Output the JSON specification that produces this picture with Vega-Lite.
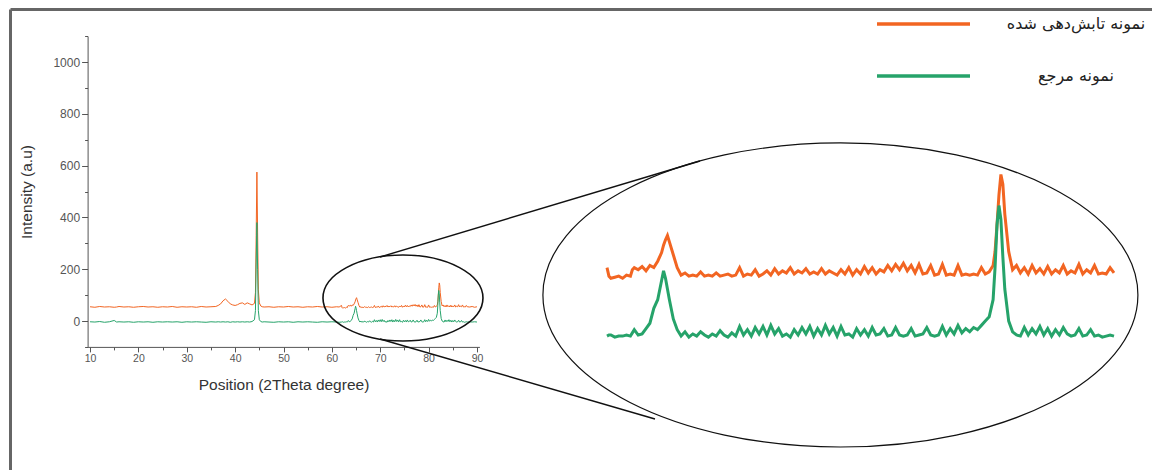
{
  "$schema": "https://vega.github.io/schema/vega-lite/v6.json",
  "autosize": {"type": "none"},
  "padding": {"left": 10, "top": 9, "right": 0, "bottom": 0},
  "width": 1142,
  "height": 461,
  "background": "white",
  "config": {"view": {"stroke": null}, "axis": {"grid": false}},
  "datasets": {
    "xrd": [
      {"x":10,"irr":55,"ref":-3},{"x":11,"irr":53,"ref":-4},{"x":12,"irr":56,"ref":-2},{"x":13,"irr":54,"ref":-5},{"x":14,"irr":55,"ref":-3},{"x":15,"irr":53,"ref":2},{"x":15.5,"irr":54,"ref":-4},{"x":16,"irr":56,"ref":-3},{"x":17,"irr":54,"ref":-4},{"x":18,"irr":55,"ref":-3},{"x":19,"irr":53,"ref":-5},{"x":20,"irr":55,"ref":-3},{"x":21,"irr":56,"ref":-4},{"x":22,"irr":54,"ref":-3},{"x":23,"irr":55,"ref":-5},{"x":24,"irr":53,"ref":-3},{"x":25,"irr":55,"ref":-4},{"x":26,"irr":54,"ref":-3},{"x":27,"irr":56,"ref":-4},{"x":28,"irr":53,"ref":-3},{"x":29,"irr":55,"ref":-5},{"x":30,"irr":54,"ref":-3},{"x":31,"irr":55,"ref":-4},{"x":32,"irr":53,"ref":-3},{"x":33,"irr":56,"ref":-4},{"x":34,"irr":54,"ref":-5},{"x":35,"irr":55,"ref":-3},{"x":36,"irr":56,"ref":-4},
      {"x":36.5,"irr":60,"ref":-3},{"x":37,"irr":66,"ref":-4},{"x":37.5,"irr":78,"ref":-3},{"x":38,"irr":85,"ref":-4},{"x":38.5,"irr":76,"ref":-3},{"x":39,"irr":66,"ref":-5},{"x":39.5,"irr":62,"ref":-3},{"x":40,"irr":60,"ref":-4},{"x":40.5,"irr":63,"ref":-3},{"x":41,"irr":68,"ref":-4},{"x":41.5,"irr":70,"ref":-3},{"x":42,"irr":64,"ref":-4},{"x":42.5,"irr":70,"ref":-3},{"x":43,"irr":66,"ref":-4},{"x":43.5,"irr":62,"ref":-2},
      {"x":44,"irr":68,"ref":5},{"x":44.2,"irr":110,"ref":40},{"x":44.35,"irr":330,"ref":220},{"x":44.5,"irr":575,"ref":380},{"x":44.65,"irr":340,"ref":200},{"x":44.8,"irr":120,"ref":40},{"x":45,"irr":70,"ref":5},{"x":45.3,"irr":58,"ref":-2},{"x":45.6,"irr":55,"ref":-4},
      {"x":46,"irr":54,"ref":-3},{"x":47,"irr":55,"ref":-4},{"x":48,"irr":53,"ref":-5},{"x":49,"irr":55,"ref":-3},{"x":50,"irr":54,"ref":-4},{"x":51,"irr":56,"ref":-3},{"x":52,"irr":54,"ref":-5},{"x":53,"irr":55,"ref":-3},{"x":54,"irr":53,"ref":-4},{"x":55,"irr":55,"ref":-3},{"x":56,"irr":54,"ref":-4},{"x":57,"irr":56,"ref":-5},{"x":58,"irr":54,"ref":-3},{"x":59,"irr":55,"ref":-4},{"x":60,"irr":53,"ref":-3},{"x":61,"irr":55,"ref":-4},{"x":61.5,"irr":54,"ref":-5},
      {"x":62.0,"irr":60,"ref":-4},{"x":62.1,"irr":52,"ref":-3},{"x":62.2,"irr":50,"ref":-3},{"x":62.4,"irr":51,"ref":-5},{"x":62.6,"irr":52,"ref":-4},{"x":62.8,"irr":50,"ref":-4},{"x":63.0,"irr":53,"ref":-3},{"x":63.2,"irr":52,"ref":-4},{"x":63.3,"irr":58,"ref":-1},{"x":63.4,"irr":60,"ref":2},{"x":63.6,"irr":58,"ref":-3},{"x":63.8,"irr":61,"ref":-2},{"x":64.0,"irr":57,"ref":3},{"x":64.2,"irr":62,"ref":8},{"x":64.4,"irr":60,"ref":22},{"x":64.6,"irr":66,"ref":30},{"x":64.8,"irr":74,"ref":48},{"x":64.9,"irr":81,"ref":57},{"x":65.0,"irr":86,"ref":50},{"x":65.1,"irr":90,"ref":40},{"x":65.2,"irr":84,"ref":30},{"x":65.4,"irr":72,"ref":12},{"x":65.6,"irr":60,"ref":2},{"x":65.8,"irr":53,"ref":-4},
      {"x":66.0,"irr":55,"ref":0},{"x":66.2,"irr":52,"ref":-5},{"x":66.4,"irr":53,"ref":-2},{"x":66.6,"irr":52,"ref":-4},{"x":66.8,"irr":56,"ref":0},{"x":67.0,"irr":52,"ref":-3},{"x":67.2,"irr":53,"ref":-5},{"x":67.4,"irr":52,"ref":-2},{"x":67.6,"irr":55,"ref":-4},{"x":67.8,"irr":52,"ref":1},{"x":68.0,"irr":53,"ref":-3},{"x":68.2,"irr":54,"ref":-5},{"x":68.4,"irr":52,"ref":-1},{"x":68.6,"irr":53,"ref":-4},{"x":68.8,"irr":60,"ref":5},{"x":69.0,"irr":52,"ref":-3},{"x":69.2,"irr":54,"ref":2},{"x":69.4,"irr":53,"ref":-4},{"x":69.6,"irr":58,"ref":4},{"x":69.8,"irr":52,"ref":-2},
      {"x":70.0,"irr":54,"ref":5},{"x":70.2,"irr":57,"ref":-3},{"x":70.4,"irr":53,"ref":6},{"x":70.6,"irr":59,"ref":-2},{"x":70.8,"irr":54,"ref":3},{"x":71.0,"irr":57,"ref":-4},{"x":71.2,"irr":55,"ref":-2},{"x":71.4,"irr":60,"ref":-5},{"x":71.6,"irr":54,"ref":2},{"x":71.8,"irr":57,"ref":-3},{"x":72.0,"irr":55,"ref":4},{"x":72.2,"irr":59,"ref":-2},{"x":72.4,"irr":54,"ref":5},{"x":72.6,"irr":56,"ref":-4},{"x":72.8,"irr":54,"ref":3},{"x":73.0,"irr":59,"ref":-3},{"x":73.2,"irr":54,"ref":6},{"x":73.4,"irr":57,"ref":-2},{"x":73.6,"irr":55,"ref":4},{"x":73.8,"irr":53,"ref":-4},
      {"x":74.0,"irr":58,"ref":5},{"x":74.2,"irr":54,"ref":-3},{"x":74.4,"irr":60,"ref":-2},{"x":74.6,"irr":53,"ref":-5},{"x":74.8,"irr":58,"ref":3},{"x":75.0,"irr":54,"ref":-3},{"x":75.2,"irr":61,"ref":2},{"x":75.4,"irr":55,"ref":-4},{"x":75.6,"irr":60,"ref":4},{"x":75.8,"irr":54,"ref":-3},{"x":76.0,"irr":58,"ref":-2},{"x":76.2,"irr":56,"ref":3},{"x":76.4,"irr":62,"ref":-4},{"x":76.6,"irr":57,"ref":-3},{"x":76.8,"irr":63,"ref":4},{"x":77.0,"irr":58,"ref":-3},{"x":77.2,"irr":64,"ref":-4},{"x":77.4,"irr":57,"ref":-3},{"x":77.6,"irr":62,"ref":3},{"x":77.8,"irr":55,"ref":-4},
      {"x":78.0,"irr":63,"ref":-3},{"x":78.2,"irr":54,"ref":-2},{"x":78.4,"irr":55,"ref":4},{"x":78.6,"irr":62,"ref":-3},{"x":78.8,"irr":53,"ref":-4},{"x":79.0,"irr":54,"ref":-3},{"x":79.2,"irr":63,"ref":5},{"x":79.4,"irr":53,"ref":-3},{"x":79.6,"irr":54,"ref":3},{"x":79.8,"irr":53,"ref":-2},{"x":80.0,"irr":62,"ref":6},{"x":80.2,"irr":53,"ref":-1},{"x":80.4,"irr":54,"ref":3},{"x":80.6,"irr":53,"ref":0},{"x":80.8,"irr":54,"ref":4},{"x":81.0,"irr":53,"ref":2},{"x":81.2,"irr":60,"ref":6},{"x":81.4,"irr":54,"ref":10},{"x":81.6,"irr":56,"ref":14},
      {"x":81.8,"irr":62,"ref":30},{"x":81.9,"irr":75,"ref":60},{"x":82.0,"irr":100,"ref":100},{"x":82.1,"irr":128,"ref":118},{"x":82.2,"irr":147,"ref":105},{"x":82.3,"irr":138,"ref":70},{"x":82.4,"irr":110,"ref":40},{"x":82.6,"irr":75,"ref":10},{"x":82.8,"irr":58,"ref":0},
      {"x":83.0,"irr":62,"ref":-3},{"x":83.2,"irr":55,"ref":-4},{"x":83.4,"irr":60,"ref":4},{"x":83.6,"irr":54,"ref":-3},{"x":83.8,"irr":62,"ref":3},{"x":84.0,"irr":55,"ref":-2},{"x":84.2,"irr":59,"ref":5},{"x":84.4,"irr":54,"ref":-3},{"x":84.6,"irr":61,"ref":3},{"x":84.8,"irr":54,"ref":-4},{"x":85.0,"irr":58,"ref":2},{"x":85.2,"irr":55,"ref":-3},{"x":85.4,"irr":62,"ref":4},{"x":85.6,"irr":54,"ref":-2},{"x":85.8,"irr":57,"ref":-4},{"x":86.0,"irr":55,"ref":-3},{"x":86.2,"irr":63,"ref":3},{"x":86.4,"irr":54,"ref":-4},{"x":86.6,"irr":58,"ref":-3},{"x":86.8,"irr":55,"ref":2},{"x":87.0,"irr":62,"ref":-4},{"x":87.2,"irr":54,"ref":-3},{"x":87.4,"irr":55,"ref":-5},{"x":87.6,"irr":54,"ref":-4},{"x":87.8,"irr":60,"ref":-3},{"x":88.0,"irr":55,"ref":-4},
      {"x":88.5,"irr":54,"ref":-3},{"x":89,"irr":56,"ref":-4},{"x":89.5,"irr":53,"ref":-3},{"x":90,"irr":55,"ref":-4}
    ],
    "smallEllipse": [{"cx": 74.7, "cy": 88.8}],
    "bigEllipse": [{"cx": 73.97, "cy": 34.4}],
    "links": [
      {"x1": 69.95, "y1": 247.1, "x2": 136.1, "y2": 617.8},
      {"x1": 69.95, "y1": -69.5, "x2": 126.8, "y2": -378.4}
    ],
    "frame": [{"a": 0, "b": 0}]
  },
  "resolve": {"scale": {"x": "independent", "y": "independent"}, "axis": {"x": "independent", "y": "independent"}},
  "layer": [
    {
      "data": {"name": "frame"},
      "mark": {"type": "point", "opacity": 0},
      "encoding": {
        "x": {"field": "a", "type": "quantitative", "scale": {"domain": [0, 1], "nice": false, "zero": false},
          "axis": {"orient": "top", "title": null, "labels": false, "ticks": false, "grid": false, "domainColor": "#666", "domainWidth": 3}},
        "y": {"field": "b", "type": "quantitative", "scale": {"domain": [0, 1], "nice": false, "zero": false},
          "axis": {"orient": "left", "title": null, "labels": false, "ticks": false, "grid": false, "domainColor": "#666", "domainWidth": 3}}
      }
    },
    {
      "data": {"name": "xrd"},
      "transform": [{"fold": ["irr", "ref"], "as": ["s", "v"]}],
      "mark": {"type": "line", "strokeWidth": 1, "clip": false},
      "encoding": {
        "x": {"field": "x", "type": "quantitative",
          "scale": {"domain": [9.5, 90.5], "range": [77.6, 469.4], "nice": false, "zero": false},
          "axis": {"orient": "bottom", "offset": -123.1, "title": "Position (2Theta degree)",
            "values": [10,15,20,25,30,35,40,45,50,55,60,65,70,75,80,85,90],
            "labelExpr": "datum.value % 10 === 0 ? datum.label : ''",
            "tickSize": {"condition": {"test": "datum.value % 10 === 0", "value": 5}, "value": 3},
            "domainColor": "#555", "tickColor": "#555", "labelColor": "#555", "labelFont": "Liberation Sans", "labelFontSize": 10.5, "labelPadding": 2,
            "titleFont": "Liberation Sans", "titleFontSize": 15.5, "titleFontWeight": "normal", "titleColor": "#333", "titlePadding": 13}},
        "y": {"field": "v", "type": "quantitative",
          "scale": {"domain": [-100, 1100], "range": [337.9, 27.1], "nice": false, "zero": false},
          "axis": {"orient": "left", "offset": -77.6, "title": "Intensity (a.u)",
            "values": [-100,0,100,200,300,400,500,600,700,800,900,1000,1100],
            "labelExpr": "datum.value % 200 === 0 && datum.value >= 0 && datum.value <= 1000 ? datum.label : ''",
            "format": "d",
            "tickSize": {"condition": {"test": "datum.value % 200 === 0", "value": 6}, "value": 3},
            "domainColor": "#555", "tickColor": "#555", "labelColor": "#555", "labelFont": "Liberation Sans", "labelFontSize": 12, "labelPadding": 2,
            "titleFont": "Liberation Sans", "titleFontSize": 15.5, "titleFontWeight": "normal", "titleColor": "#333", "titlePadding": 18}},
        "color": {"field": "s", "type": "nominal",
          "scale": {"domain": ["irr", "ref"], "range": ["#f26522", "#26a36a"]},
          "legend": {"orient": "none", "legendX": 865, "legendY": 5, "title": null, "padding": 0,
            "direction": "vertical", "symbolType": "stroke", "symbolSize": 8649, "symbolStrokeWidth": 3.5, "clipHeight": 20, "rowPadding": 32,
            "labelAlign": "center", "labelOffset": 104, "labelFont": "DejaVu Sans", "labelFontSize": 16, "labelColor": "#222",
            "labelLimit": 300,
            "labelExpr": "datum.label === 'irr' ? 'نمونه تابش\u200cدهی شده' : 'نمونه مرجع'"}}
      }
    },
    {
      "data": {"name": "smallEllipse"},
      "mark": {"type": "point", "filled": false, "stroke": "#111", "strokeWidth": 1.6, "opacity": 1, "clip": false,
        "shape": "M-1,0C-1,-0.2969,-0.5523,-0.5375,0,-0.5375C0.5523,-0.5375,1,-0.2969,1,0C1,0.2969,0.5523,0.5375,0,0.5375C-0.5523,0.5375,-1,0.2969,-1,0Z",
        "size": 25600},
      "encoding": {
        "x": {"field": "cx", "type": "quantitative", "scale": {"domain": [9.5, 90.5], "range": [77.6, 469.4], "nice": false, "zero": false}, "axis": null},
        "y": {"field": "cy", "type": "quantitative", "scale": {"domain": [-100, 1100], "range": [337.9, 27.1], "nice": false, "zero": false}, "axis": null}
      }
    },
    {
      "data": {"name": "links"},
      "mark": {"type": "rule", "color": "#111", "strokeWidth": 1.4, "clip": false},
      "encoding": {
        "x": {"field": "x1", "type": "quantitative", "scale": {"domain": [9.5, 90.5], "range": [77.6, 469.4], "nice": false, "zero": false}, "axis": null},
        "y": {"field": "y1", "type": "quantitative", "scale": {"domain": [-100, 1100], "range": [337.9, 27.1], "nice": false, "zero": false}, "axis": null},
        "x2": {"field": "x2"},
        "y2": {"field": "y2"}
      }
    },
    {
      "data": {"name": "xrd"},
      "transform": [{"filter": "datum.x >= 62 && datum.x <= 88"}, {"fold": ["irr", "ref"], "as": ["s", "v"]}],
      "mark": {"type": "line", "strokeWidth": 3, "clip": false},
      "encoding": {
        "x": {"field": "x", "type": "quantitative", "scale": {"domain": [62, 88], "range": [597, 1104], "nice": false, "zero": false}, "axis": null},
        "y": {"field": "v", "type": "quantitative", "scale": {"domain": [-30, 160], "range": [354.9, 151.6], "nice": false, "zero": false}, "axis": null},
        "color": {"field": "s", "type": "nominal",
          "scale": {"domain": ["irr", "ref"], "range": ["#f26522", "#26a36a"]},
          "legend": {"orient": "none", "legendX": 865, "legendY": 5, "title": null, "padding": 0,
            "direction": "vertical", "symbolType": "stroke", "symbolSize": 8649, "symbolStrokeWidth": 3.5, "clipHeight": 20, "rowPadding": 32,
            "labelAlign": "center", "labelOffset": 104, "labelFont": "DejaVu Sans", "labelFontSize": 16, "labelColor": "#222",
            "labelLimit": 300,
            "labelExpr": "datum.label === 'irr' ? 'نمونه تابش\u200cدهی شده' : 'نمونه مرجع'"}}
      }
    },
    {
      "data": {"name": "bigEllipse"},
      "mark": {"type": "point", "filled": false, "stroke": "#111", "strokeWidth": 1.2, "opacity": 1, "clip": false,
        "shape": "M-1,0C-1,-0.2822,-0.5523,-0.511,0,-0.511C0.5523,-0.511,1,-0.2822,1,0C1,0.2822,0.5523,0.511,0,0.511C-0.5523,0.511,-1,0.2822,-1,0Z",
        "size": 354025},
      "encoding": {
        "x": {"field": "cx", "type": "quantitative", "scale": {"domain": [62, 88], "range": [597, 1104], "nice": false, "zero": false}, "axis": null},
        "y": {"field": "cy", "type": "quantitative", "scale": {"domain": [-30, 160], "range": [354.9, 151.6], "nice": false, "zero": false}, "axis": null}
      }
    }
  ]
}
